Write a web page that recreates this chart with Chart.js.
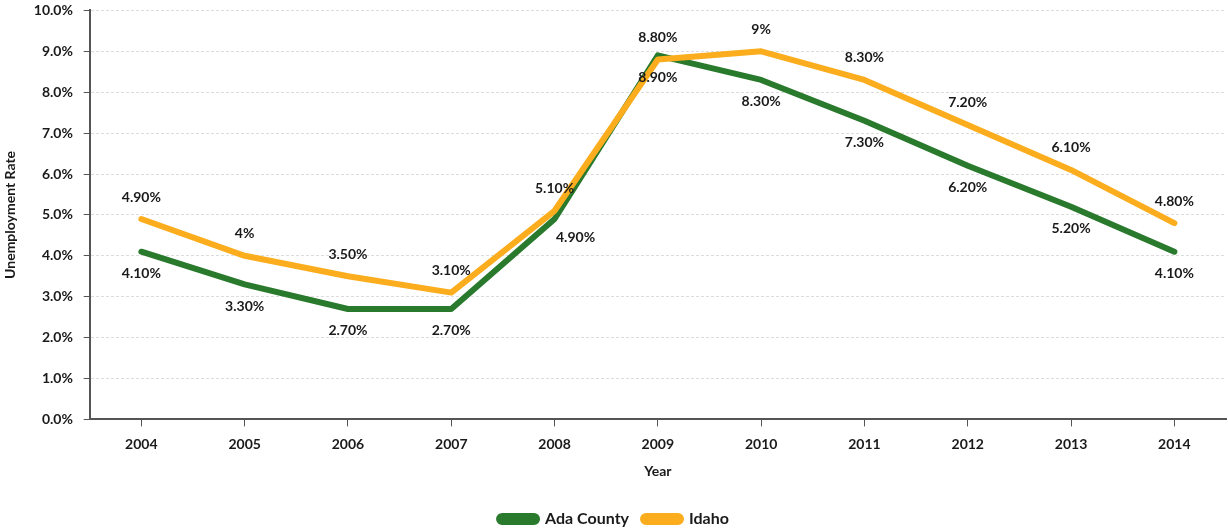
<!DOCTYPE html>
<html>
<head>
<meta charset="utf-8">
<script src="https://cdn.jsdelivr.net/npm/chart.js@4"></script>
<style>
  html, body { margin: 0; padding: 0; background: #fff; }
  #wrap { width: 1228px; height: 529px; position: relative; }
</style>
</head>
<body>
<div id="wrap"><canvas id="chart"></canvas></div>
<script>
'use strict';

/* data */
const years      = ['2004', '2005', '2006', '2007', '2008', '2009', '2010', '2011', '2012', '2013', '2014'];
const adaCounty  = [4.1, 3.3, 2.7, 2.7, 4.9, 8.9, 8.3, 7.3, 6.2, 5.2, 4.1];
const idaho      = [4.9, 4.0, 3.5, 3.1, 5.1, 8.8, 9.0, 8.3, 7.2, 6.1, 4.8];
const adaLabels  = ['4.10%', '3.30%', '2.70%', '2.70%', '4.90%', '8.90%', '8.30%', '7.30%', '6.20%', '5.20%', '4.10%'];
const idaLabels  = ['4.90%', '4%', '3.50%', '3.10%', '5.10%', '8.80%', '9%', '8.30%', '7.20%', '6.10%', '4.80%'];

const C_ADA   = '#2a7a2e';
const C_IDA   = '#fbad1e';
const C_TEXT  = '#1a1a1a';
const C_AXIS  = '#555';
const FONT    = 'Lato, "DejaVu Sans", sans-serif';

/* point labels: Idaho above the line, Ada below */
const pointLabels = {
  id: 'pointLabels',
  afterDatasetsDraw(chart) {
    const ctx = chart.ctx;
    ctx.save();
    ctx.font = 'bold 14px ' + FONT;
    ctx.fillStyle = C_TEXT;
    ctx.textAlign = 'center';
    ctx.textBaseline = 'middle';
    chart.data.datasets.forEach((ds, di) => {
      const meta = chart.getDatasetMeta(di);
      const above = ds.label === 'Idaho';
      meta.data.forEach((pt, i) => {
        let dx = 0, dy = above ? -22 : 22;
        if (!above && i === 4) { dx = 21; dy = 18; }
        ctx.fillText(ds.pointText[i], pt.x + dx, pt.y + dy);
      });
    });
    ctx.restore();
  }
};

new Chart(document.getElementById('chart'), {
  type: 'line',
  data: {
    labels: years,
    datasets: [
      {
        label: 'Idaho',
        data: idaho,
        pointText: idaLabels,
        borderColor: C_IDA,
        backgroundColor: C_IDA,
        borderWidth: 6,
        pointRadius: 0,
        borderCapStyle: 'round',
        borderJoinStyle: 'round',
        tension: 0,
      },
      {
        label: 'Ada County',
        data: adaCounty,
        pointText: adaLabels,
        borderColor: C_ADA,
        backgroundColor: C_ADA,
        borderWidth: 6,
        pointRadius: 0,
        borderCapStyle: 'round',
        borderJoinStyle: 'round',
        tension: 0,
      },
    ],
  },
  options: {
    responsive: true,
    maintainAspectRatio: false,
    animation: false,
    layout: { padding: { top: 0, right: 2, left: 2, bottom: -8 } },
    plugins: {
      legend: {
        position: 'bottom',
        reverse: true,
        labels: {
          boxWidth: 38,
          boxHeight: 6,
          useBorderRadius: true,
          borderRadius: 3,
          color: C_TEXT,
          font: { family: FONT, size: 16, weight: 'bold' },
          padding: 14,
        },
      },
      tooltip: { enabled: false },
    },
    scales: {
      x: {
        offset: true,
        grid: { drawOnChartArea: false, drawTicks: true, tickLength: 7, tickColor: C_AXIS },
        border: { color: C_AXIS, width: 2 },
        ticks: { color: C_TEXT, padding: 10, font: { family: FONT, size: 14, weight: 'bold' } },
        title: {
          display: true, text: 'Year', color: C_TEXT,
          font: { family: FONT, size: 14, weight: 'bold' }, padding: { top: 0, bottom: 17 },
        },
      },
      y: {
        min: 0,
        max: 10,
        ticks: {
          stepSize: 1,
          color: C_TEXT,
          padding: 2,
          font: { family: FONT, size: 14, weight: 'bold' },
          // trailing spaces keep the label clear of the tick mark without extra top padding
          callback: v => v.toFixed(1) + '%\u2002\u2009',
        },
        grid: { color: '#dcdcdc', tickColor: C_AXIS, tickLength: 6 },
        border: { color: C_AXIS, width: 2, dash: [3, 2] },
        title: {
          display: true, text: 'Unemployment Rate', color: C_TEXT,
          font: { family: FONT, size: 14, weight: 'bold' }, padding: { top: 0, bottom: 13 },
        },
      },
    },
  },
  plugins: [pointLabels],
});
</script>
</body>
</html>
